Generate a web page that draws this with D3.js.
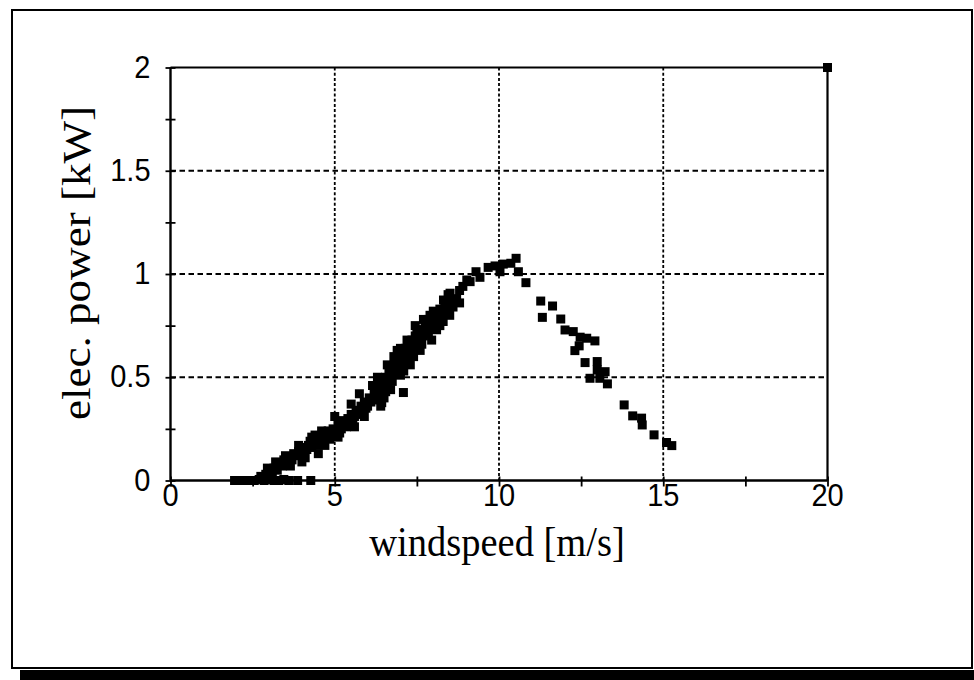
<!DOCTYPE html>
<html>
<head>
<meta charset="utf-8">
<script src="https://cdn.jsdelivr.net/npm/d3@7"></script>
<style>
  html, body { margin: 0; padding: 0; background: #fff; }
  svg { display: block; }
</style>
</head>
<body>
<svg id="chart" width="974" height="680"></svg>
<script>
// Measured power curve: wind speed [m/s] and electrical output [kW]
const windspeed = [
  1.95, 2.1, 2.25, 2.4, 2.55, 2.7, 2.85, 3.0, 3.15, 3.3, 3.45, 3.6, 3.87, 4.27,
  2.75, 2.9, 3.0, 3.1, 3.15, 3.25, 3.3, 3.4, 3.45, 3.55, 3.6, 3.7, 3.75, 3.85,
  3.9, 4.0, 4.05, 4.15, 4.2, 4.3, 4.35, 4.45, 4.5, 4.6, 4.65, 4.75, 4.8, 4.9,
  4.95, 5.05, 5.1, 5.2, 5.25, 5.3, 5.4, 5.45, 5.5, 5.6, 5.65, 5.7, 5.8, 5.85,
  5.9, 6.0, 6.05, 6.1, 6.2, 6.25, 6.3, 6.35, 6.43, 6.45, 6.5, 6.55, 6.6, 6.65,
  6.7, 6.75, 6.8, 6.85, 6.9, 6.95, 7.0, 7.09, 7.05, 7.1, 7.15, 7.2, 7.25, 7.3,
  7.35, 7.4, 7.45, 7.5, 7.55, 7.6, 7.65, 7.7, 7.75, 7.8, 7.85, 7.9, 7.95, 8.0,
  8.05, 8.1, 8.2, 8.26, 8.31, 8.35, 8.46, 8.51, 8.6, 8.71, 8.8,
  4.25, 4.6, 4.7, 5.0, 5.1, 5.5, 5.6, 5.75, 5.9, 6.3, 6.4, 6.6, 6.7, 6.9,
  7.0, 7.2, 7.3, 7.5, 7.6, 7.9, 7.95, 8.2, 8.5, 8.45, 8.8, 3.9, 4.0, 4.3, 4.5,
  4.55, 4.85, 5.15, 5.35, 5.55, 5.75, 5.95, 6.15, 6.15, 6.35, 6.5, 6.55, 6.75,
  6.8, 7.0, 7.1, 7.2, 7.4, 7.45, 7.65, 7.7, 7.85, 8.0, 8.1, 8.3, 8.4, 8.6, 8.9,
  3.5, 3.65, 3.2, 2.95, 4.1, 4.4,
  9.02, 9.12, 9.30, 9.42, 9.67, 9.88, 10.03, 10.13, 10.36, 10.52, 10.59, 10.82,
  11.27, 11.63, 11.32, 11.88, 12.01, 12.26, 12.47, 12.67, 12.92, 12.44, 12.31,
  12.62, 12.99, 12.99, 13.23, 12.77, 13.07, 13.30, 13.81, 14.07, 14.34, 14.36,
  14.72, 15.10, 15.26,
  20.0
];
const power = [
  0, 0, 0, 0, 0, 0.005, 0, 0.005, 0, 0, 0.005, 0, 0, 0,
  0.02, 0.03, 0.045, 0.03, 0.06, 0.05, 0.08, 0.07, 0.10, 0.09, 0.11, 0.10, 0.13, 0.12,
  0.14, 0.13, 0.16, 0.15, 0.17, 0.16, 0.19, 0.17, 0.20, 0.19, 0.22, 0.21, 0.24, 0.22,
  0.25, 0.24, 0.27, 0.25, 0.29, 0.27, 0.30, 0.28, 0.32, 0.31, 0.34, 0.32, 0.36, 0.34,
  0.38, 0.36, 0.40, 0.38, 0.43, 0.40, 0.45, 0.42, 0.377, 0.48, 0.45, 0.50, 0.47, 0.53,
  0.50, 0.55, 0.52, 0.58, 0.54, 0.60, 0.57, 0.426, 0.62, 0.59, 0.64, 0.61, 0.66, 0.62,
  0.68, 0.64, 0.70, 0.66, 0.72, 0.68, 0.73, 0.70, 0.76, 0.72, 0.78, 0.74, 0.79, 0.76,
  0.81, 0.78, 0.83, 0.80, 0.874, 0.85, 0.826, 0.907, 0.88, 0.878, 0.92,
  0.19, 0.24, 0.17, 0.31, 0.21, 0.37, 0.26, 0.42, 0.31, 0.50, 0.36, 0.56, 0.44, 0.63,
  0.51, 0.68, 0.56, 0.73, 0.63, 0.80, 0.68, 0.75, 0.80, 0.90, 0.86, 0.17, 0.09, 0.21, 0.13,
  0.18, 0.20, 0.23, 0.26, 0.29, 0.33, 0.35, 0.39, 0.46, 0.47, 0.40, 0.43, 0.48,
  0.60, 0.64, 0.53, 0.57, 0.60, 0.75, 0.66, 0.78, 0.71, 0.82, 0.73, 0.77, 0.87, 0.84, 0.94,
  0.12, 0.07, 0.09, 0.06, 0.11, 0.22,
  0.971, 0.963, 1.011, 0.984, 1.032, 1.039, 1.011, 1.048, 1.052, 1.076, 1.011, 0.958,
  0.869, 0.845, 0.790, 0.782, 0.729, 0.721, 0.694, 0.689, 0.676, 0.652, 0.629,
  0.571, 0.576, 0.536, 0.527, 0.495, 0.495, 0.468, 0.366, 0.313, 0.302, 0.269,
  0.221, 0.184, 0.169,
  2.0
];

const xTicks = [0, 5, 10, 15, 20];
const yTicks = [0, 0.5, 1, 1.5, 2];
const yTickLabels = ["0", "0.5", "1", "1.5", "2"];
const xTitle = "windspeed [m/s]";
const yTitle = "elec. power [kW]";

const svg = d3.select("#chart");

// outer page frame with the dark shadow strip along the bottom
svg.append("rect")
  .attr("x", 12).attr("y", 10).attr("width", 960).attr("height", 658)
  .attr("fill", "none").attr("stroke", "#000").attr("stroke-width", 2);
svg.append("rect")
  .attr("x", 20).attr("y", 670).attr("width", 954).attr("height", 10)
  .attr("fill", "#000");

const plot = { left: 170.5, right: 827.5, top: 67.5, bottom: 480.5 };

const x = d3.scaleLinear().domain([0, 20]).range([plot.left, plot.right]);
const y = d3.scaleLinear().domain([0, 2]).range([plot.bottom, plot.top]);

// dashed grid
svg.append("g")
  .selectAll("line")
  .data(xTicks.slice(1, -1))
  .join("line")
  .attr("x1", d => x(d)).attr("x2", d => x(d))
  .attr("y1", plot.top).attr("y2", plot.bottom)
  .attr("stroke", "#000").attr("stroke-width", 1.8)
  .attr("stroke-dasharray", "3,2.2");
svg.append("g")
  .selectAll("line")
  .data(yTicks.slice(1, -1))
  .join("line")
  .attr("x1", plot.left).attr("x2", plot.right)
  .attr("y1", d => y(d)).attr("y2", d => y(d))
  .attr("stroke", "#000").attr("stroke-width", 1.8)
  .attr("stroke-dasharray", "5.5,3.5");

// plot border (top and right)
svg.append("path")
  .attr("d", `M${plot.left},${plot.top}H${plot.right}V${plot.bottom}`)
  .attr("fill", "none").attr("stroke", "#000").attr("stroke-width", 2.2);

// axes: ticks cross the axis lines, minor ticks at half steps
const xAxis = d3.axisBottom(x)
  .tickValues(d3.range(0, 20.01, 2.5))
  .tickSize(6).tickFormat("");
const gx = svg.append("g").attr("transform", `translate(0,${plot.bottom})`).call(xAxis);
gx.select(".domain").attr("stroke-width", 2.4).attr("d", `M${plot.left},0H${plot.right}`);
gx.selectAll(".tick line").attr("y1", -4).attr("stroke-width", 1.8);

const yAxis = d3.axisLeft(y)
  .tickValues(d3.range(0, 2.001, 0.25))
  .tickSize(5).tickFormat("");
const gy = svg.append("g").attr("transform", `translate(${plot.left},0)`).call(yAxis);
gy.select(".domain").attr("stroke-width", 2.4).attr("d", `M0,${plot.top}V${plot.bottom}`);
gy.selectAll(".tick line").attr("x1", 5).attr("stroke-width", 1.8);

// tick labels
const tickFont = "'Liberation Sans', Arial, sans-serif";
svg.append("g")
  .selectAll("text")
  .data(xTicks)
  .join("text")
  .attr("transform", d => `translate(${x(d)},${plot.bottom + 25}) scale(1,1.1)`)
  .attr("text-anchor", "middle")
  .attr("font-family", tickFont).attr("font-size", 29)
  .text(d => d);
svg.append("g")
  .selectAll("text")
  .data(yTicks)
  .join("text")
  .attr("transform", d => `translate(${plot.left - 20},${y(d) + 10}) scale(1,1.1)`)
  .attr("text-anchor", "end")
  .attr("font-family", tickFont).attr("font-size", 29)
  .text((d, i) => yTickLabels[i]);

// axis titles
const titleFont = "'Liberation Serif', 'Times New Roman', serif";
svg.append("text")
  .attr("transform", `translate(${(plot.left + plot.right) / 2 - 2},556) scale(1,1.1)`)
  .attr("text-anchor", "middle")
  .attr("font-family", titleFont).attr("font-size", 38.5)
  .text(xTitle);
svg.append("text")
  .attr("transform", `translate(90,263) rotate(-90) scale(1.1,1)`)
  .attr("text-anchor", "middle")
  .attr("font-family", titleFont).attr("font-size", 41)
  .text(yTitle);

// data markers: filled squares
const s = 9;
svg.append("g")
  .selectAll("rect")
  .data(d3.range(windspeed.length))
  .join("rect")
  .attr("x", i => x(windspeed[i]) - s / 2)
  .attr("y", i => y(power[i]) - s / 2)
  .attr("width", s).attr("height", s)
  .attr("fill", "#000");
</script>
</body>
</html>
